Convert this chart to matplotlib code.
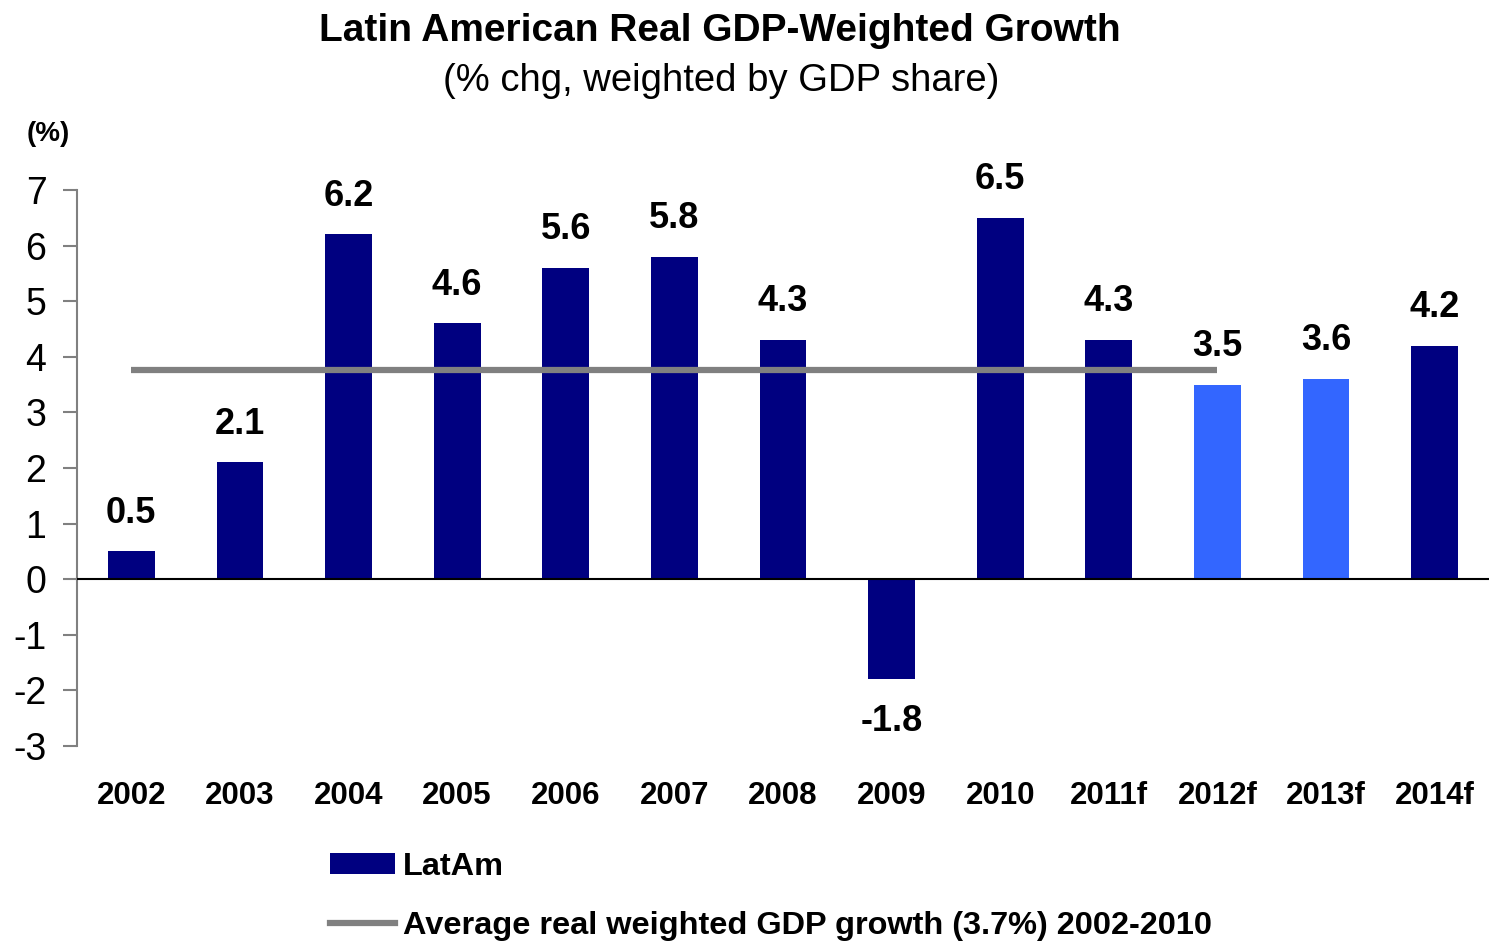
import numpy as np
import matplotlib
matplotlib.use("Agg")
import matplotlib.pyplot as plt
from matplotlib.patches import Patch
from matplotlib.lines import Line2D

plt.rcParams['font.family'] = ['Liberation Sans', 'DejaVu Sans']

years = ['2002', '2003', '2004', '2005', '2006', '2007', '2008', '2009',
         '2010', '2011f', '2012f', '2013f', '2014f']
growth = [0.5, 2.1, 6.2, 4.6, 5.6, 5.8, 4.3, -1.8, 6.5, 4.3, 3.5, 3.6, 4.2]
light_years = ['2012f', '2013f']
avg_years = years[:9]

NAVY = '#000080'
LIGHT = '#3366FF'
GRAY = '#808080'

fig = plt.figure(figsize=(14.89, 9.41), dpi=100)
ax = fig.add_axes([77 / 1489, 1 - 746 / 941, 1 - 77 / 1489, (746 - 190) / 941])

x = np.arange(len(years))
colors = [LIGHT if y in light_years else NAVY for y in years]
ax.bar(x, growth, width=0.43, color=colors, zorder=2)

# average over 2002-2010, drawn across that span and into 2012f
avg = float(np.mean(growth[:len(avg_years)]))
ax.plot([0, 10], [avg, avg], color=GRAY, lw=4.5, solid_capstyle='butt', zorder=3)

ax.axhline(0, color='black', lw=1.5, zorder=4)

for xi, v in zip(x, growth):
    if v >= 0:
        ax.annotate(f'{v:.1f}', (xi, v), xytext=(0, 15), textcoords='offset points',
                    ha='center', va='bottom', fontsize=26, fontweight='bold')
    else:
        ax.annotate(f'{v:.1f}', (xi, v), xytext=(0, -18), textcoords='offset points',
                    ha='center', va='top', fontsize=26, fontweight='bold')

ax.set_xlim(-0.5, len(years) - 0.5)
ax.set_ylim(-3, 7)
ax.set_yticks(range(-3, 8))
ax.set_yticklabels([str(t) for t in range(-3, 8)], fontsize=27)
ax.set_xticks(x)
ax.set_xticklabels(years, fontsize=22.5, fontweight='bold')
ax.tick_params(axis='x', length=0, pad=25.5)
ax.tick_params(axis='y', length=10, width=1.5, color=GRAY, direction='out', pad=12)

for side in ['top', 'right', 'bottom']:
    ax.spines[side].set_visible(False)
ax.spines['left'].set_color(GRAY)
ax.spines['left'].set_linewidth(1.5)

fig.text(720 / 1489, 1 - 31 / 941, 'Latin American Real GDP-Weighted Growth',
         ha='center', va='center', fontsize=28, fontweight='bold')
fig.text(721 / 1489, 1 - 81 / 941, '(% chg, weighted by GDP share)',
         ha='center', va='center', fontsize=27.5)
fig.text(27 / 1489, 1 - 134 / 941, '(%)', ha='left', va='center',
         fontsize=20, fontweight='bold')

handles = [Patch(facecolor=NAVY, edgecolor='none'),
           Line2D([], [], color=GRAY, lw=4.5)]
labels = ['LatAm', 'Average real weighted GDP growth (3.7%) 2002-2010']
fig.legend(handles, labels, loc='upper left',
           bbox_to_anchor=(330 / 1489, 1 - 852 / 941),
           frameon=False, prop={'size': 23.4, 'weight': 'bold'},
           handlelength=2.0, handleheight=0.6, handletextpad=0.25,
           labelspacing=0.9, borderaxespad=0, borderpad=0)

fig.savefig('out.png', dpi=100)
